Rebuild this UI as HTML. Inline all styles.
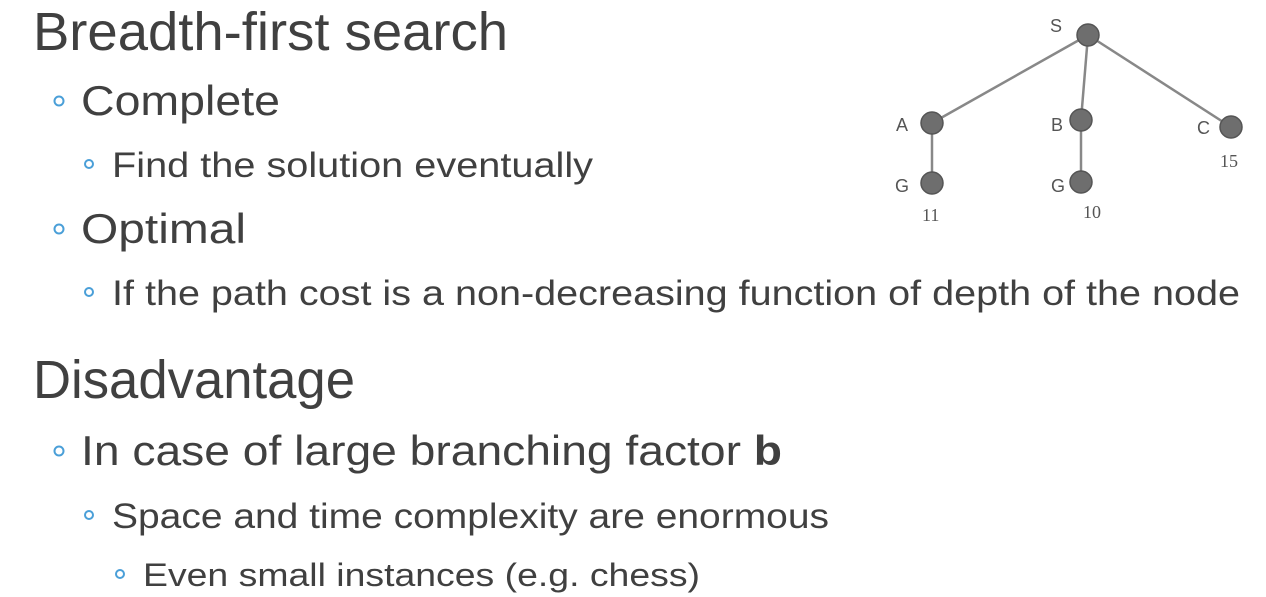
<!DOCTYPE html>
<html><head><meta charset="utf-8"><style>
html,body{margin:0;padding:0;background:#fff;}
svg{display:block;}
text{font-family:"Liberation Sans",sans-serif;fill:#404040;}
</style></head><body>
<svg width="1266" height="597" viewBox="0 0 1266 597">
<g>
<text x="33" y="50" font-size="54" textLength="475" lengthAdjust="spacingAndGlyphs">Breadth-first search</text>
<circle cx="59" cy="101" r="4.5" fill="none" stroke="#4a9fd8" stroke-width="2"/>
<text x="81" y="115" font-size="42" textLength="199" lengthAdjust="spacingAndGlyphs">Complete</text>
<circle cx="89" cy="164" r="4" fill="none" stroke="#4a9fd8" stroke-width="2"/>
<text x="112" y="177" font-size="35" textLength="481" lengthAdjust="spacingAndGlyphs">Find the solution eventually</text>
<circle cx="59" cy="229" r="4.5" fill="none" stroke="#4a9fd8" stroke-width="2"/>
<text x="81" y="243" font-size="42" textLength="165" lengthAdjust="spacingAndGlyphs">Optimal</text>
<circle cx="89" cy="292" r="4" fill="none" stroke="#4a9fd8" stroke-width="2"/>
<text x="112" y="305" font-size="35" textLength="1128" lengthAdjust="spacingAndGlyphs">If the path cost is a non-decreasing function of depth of the node</text>
<text x="33" y="398" font-size="54" textLength="322" lengthAdjust="spacingAndGlyphs">Disadvantage</text>
<circle cx="59" cy="451" r="4.5" fill="none" stroke="#4a9fd8" stroke-width="2"/>
<text x="81" y="465" font-size="42" textLength="701" lengthAdjust="spacingAndGlyphs">In case of large branching factor <tspan font-weight="bold">b</tspan></text>
<circle cx="89" cy="515" r="4" fill="none" stroke="#4a9fd8" stroke-width="2"/>
<text x="112" y="528" font-size="35" textLength="717" lengthAdjust="spacingAndGlyphs">Space and time complexity are enormous</text>
<circle cx="120" cy="574" r="4" fill="none" stroke="#4a9fd8" stroke-width="2"/>
<text x="143" y="586" font-size="32" textLength="557" lengthAdjust="spacingAndGlyphs">Even small instances (e.g. chess)</text>
</g>
<g stroke="#888" stroke-width="2.5">
<line x1="1088" y1="35" x2="932" y2="123"/>
<line x1="1088" y1="35" x2="1081" y2="120"/>
<line x1="1088" y1="35" x2="1231" y2="127"/>
<line x1="932" y1="123" x2="932" y2="183"/>
<line x1="1081" y1="120" x2="1081" y2="182"/>
<g fill="#6e6e6e" stroke="#555" stroke-width="1.5">
<circle cx="1088" cy="35" r="11"/>
<circle cx="932" cy="123" r="11"/>
<circle cx="1081" cy="120" r="11"/>
<circle cx="1231" cy="127" r="11"/>
<circle cx="932" cy="183" r="11"/>
<circle cx="1081" cy="182" r="11"/>
</g>
</g>
<g font-size="18">
<text x="1050" y="32" style="fill:#555">S</text>
<text x="896" y="131" style="fill:#555">A</text>
<text x="1051" y="131" style="fill:#555">B</text>
<text x="1197" y="134" style="fill:#555">C</text>
<text x="895" y="192" style="fill:#555">G</text>
<text x="1051" y="192" style="fill:#555">G</text>
<text x="922" y="221" font-family="Liberation Serif" style="fill:#555;font-family:'Liberation Serif',serif">11</text>
<text x="1083" y="218" style="fill:#555;font-family:'Liberation Serif',serif">10</text>
<text x="1220" y="167" style="fill:#555;font-family:'Liberation Serif',serif">15</text>
</g>
</svg>
</body></html>
